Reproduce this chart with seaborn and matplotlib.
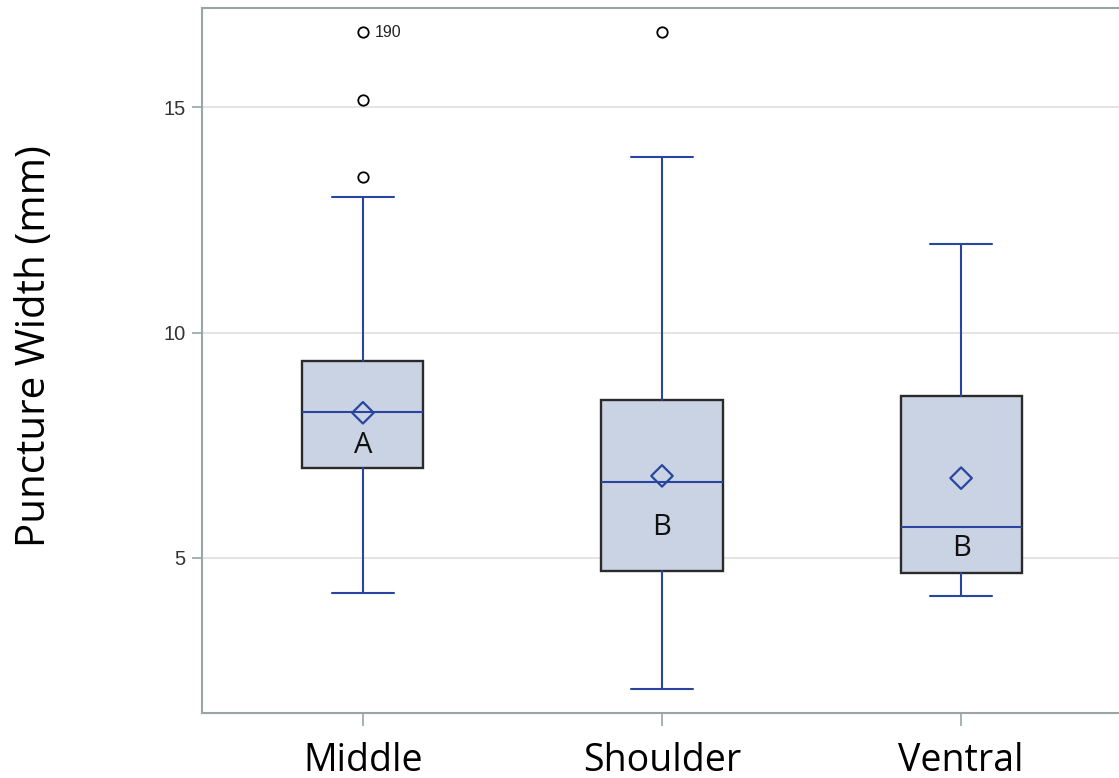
import matplotlib
matplotlib.use("Agg")
import matplotlib.pyplot as plt
import seaborn as sns
import pandas as pd

# Puncture width summary per location (mm)
locations = ["Middle", "Shoulder", "Ventral"]
whisker_low = [4.22, 2.10, 4.16]
q1 = [7.00, 4.71, 4.67]
median = [8.24, 6.69, 5.69]
q3 = [9.37, 8.50, 8.59]
whisker_high = [13.00, 13.89, 11.96]
mean = [8.22, 6.82, 6.77]
outliers = [[13.45, 15.16, 16.66], [16.66], []]
groups = ["A", "B", "B"]
group_y = [7.50, 5.67, 5.22]
outlier_id = "190"

sns.set_theme(style="white")
plt.rcParams["font.family"] = ["Liberation Sans", "DejaVu Sans"]

blue = "#2846A0"
fill = "#CAD3E3"
frame = "#9AA4A4"

fig = plt.figure(figsize=(11.19, 7.78), dpi=100)
ax = fig.add_axes([202 / 1119, 65 / 778, 920 / 1119, 705 / 778])

stats = []
for i, name in enumerate(locations):
    stats.append(dict(label=name, whislo=whisker_low[i], q1=q1[i], med=median[i],
                      q3=q3[i], whishi=whisker_high[i], fliers=outliers[i]))

ax.bxp(stats, positions=range(len(locations)), widths=0.405, patch_artist=True,
       showfliers=True, capwidths=0.205,
       boxprops=dict(facecolor=fill, edgecolor="#2a2a2a", linewidth=1.7),
       medianprops=dict(color=blue, linewidth=1.5),
       whiskerprops=dict(color=blue, linewidth=1.5),
       capprops=dict(color=blue, linewidth=1.5),
       flierprops=dict(marker="o", markersize=7.5, markerfacecolor="white",
                       markeredgecolor="black", markeredgewidth=1.3, linestyle="none"),
       zorder=3)

means_df = pd.DataFrame({"x": range(len(locations)), "mean": mean})
sns.scatterplot(data=means_df, x="x", y="mean", marker="D", s=120,
                facecolor="none", edgecolor=blue, linewidth=1.6, ax=ax, zorder=4)

for i, (g, gy) in enumerate(zip(groups, group_y)):
    ax.text(i, gy, g, ha="center", va="center", fontsize=21,
            family=["Open Sans", "DejaVu Sans"], color="#111111", zorder=5)

ax.text(0 + 0.04, outliers[0][-1], outlier_id, ha="left", va="center",
        fontsize=11.5, color="#222222", zorder=5)

ax.set_xlim(-0.538, 2.538)
ax.set_ylim(1.56, 17.2)
ax.set_yticks([5, 10, 15])
ax.set_xticks(range(len(locations)))
ax.set_xticklabels(locations, family=["Open Sans", "DejaVu Sans"], fontsize=27)
ax.tick_params(axis="y", labelsize=14.5, colors=frame, labelcolor="#333333",
               length=7, width=1.2, left=True, pad=5)
ax.tick_params(axis="x", colors=frame, labelcolor="black", length=9, width=1.2,
               bottom=True, pad=12)
ax.yaxis.grid(True, color="#E2E2E2", linewidth=1.3)
ax.set_axisbelow(True)
ax.set_xlabel("")
ax.set_ylabel("")
fig.text(35 / 1119, 1 - 346 / 778, "Puncture Width (mm)", rotation=90,
         ha="center", va="center", fontsize=29,
         family=["Open Sans", "DejaVu Sans"], color="black")
for side in ["left", "bottom", "top", "right"]:
    ax.spines[side].set_color(frame)
    ax.spines[side].set_linewidth(1.5)

fig.savefig("out.png", dpi=100)
